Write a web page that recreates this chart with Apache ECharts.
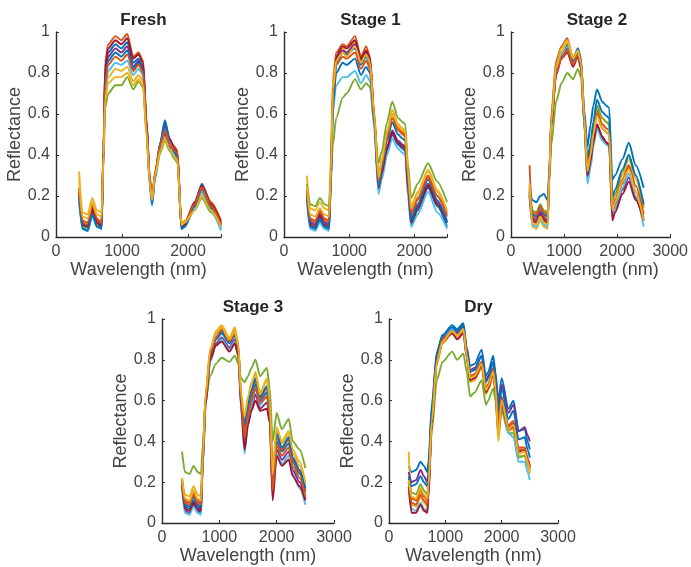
<!DOCTYPE html>
<html><head><meta charset="utf-8">
<script src="https://cdn.jsdelivr.net/npm/echarts@6/dist/echarts.min.js"></script>
<style>html,body{margin:0;padding:0;background:#fff}#c{width:691px;height:567px}</style>
</head><body><div id="c"></div>
<script>
// MATLAB default colour order
const lineColors = ['#0072BD','#D95319','#EDB120','#7E2F8E','#77AC30','#4DBEEE','#A2142F'];
const panelTitles = ['Fresh','Stage 1','Stage 2','Stage 3','Dry'];
const xMaxes = [2500, 2500, 3000, 3000, 3000];
const xTickLabels = [0, 1000, 2000, 3000];
const yTickLabels = [0, 0.2, 0.4, 0.6, 0.8, 1];

// ---- Fresh ----
const freshWl = [350,400,480,550,620,690,720,745,790,900,990,1080,1170,1250,1320,1370,1420,1455,1500,1580,1650,1720,1800,1840,1900,1950,2100,2210,2350,2500];
const freshCurves = [
 [0.20,0.05,0.04,0.12,0.06,0.04,0.40,0.80,0.90,0.94,0.92,0.95,0.85,0.87,0.83,0.56,0.28,0.16,0.30,0.46,0.57,0.48,0.42,0.40,0.04,0.05,0.16,0.26,0.16,0.07],
 [0.24,0.07,0.06,0.15,0.08,0.06,0.45,0.85,0.94,0.98,0.96,0.99,0.88,0.90,0.86,0.58,0.30,0.18,0.31,0.45,0.54,0.47,0.44,0.42,0.06,0.07,0.17,0.25,0.17,0.08],
 [0.32,0.12,0.11,0.19,0.13,0.12,0.42,0.70,0.78,0.82,0.81,0.83,0.76,0.79,0.76,0.52,0.28,0.19,0.32,0.44,0.50,0.44,0.40,0.38,0.07,0.08,0.14,0.21,0.14,0.06],
 [0.19,0.06,0.05,0.13,0.07,0.05,0.42,0.78,0.88,0.92,0.90,0.93,0.83,0.86,0.82,0.55,0.27,0.17,0.30,0.43,0.51,0.44,0.41,0.39,0.05,0.06,0.15,0.23,0.15,0.06],
 [0.17,0.05,0.04,0.11,0.06,0.05,0.38,0.63,0.70,0.74,0.74,0.78,0.72,0.76,0.73,0.50,0.26,0.17,0.29,0.41,0.47,0.42,0.38,0.36,0.05,0.06,0.13,0.19,0.12,0.04],
 [0.18,0.04,0.03,0.10,0.05,0.04,0.40,0.72,0.81,0.85,0.84,0.86,0.79,0.82,0.79,0.53,0.25,0.15,0.28,0.44,0.53,0.46,0.40,0.38,0.04,0.05,0.14,0.22,0.13,0.03],
 [0.22,0.06,0.05,0.14,0.07,0.05,0.44,0.83,0.92,0.96,0.94,0.97,0.87,0.89,0.85,0.57,0.29,0.18,0.31,0.45,0.55,0.48,0.43,0.41,0.05,0.06,0.17,0.25,0.16,0.07],
 [0.20,0.04,0.03,0.11,0.05,0.04,0.41,0.76,0.86,0.90,0.88,0.91,0.82,0.85,0.81,0.55,0.27,0.16,0.29,0.46,0.56,0.47,0.41,0.39,0.04,0.05,0.15,0.24,0.14,0.05],
 [0.23,0.08,0.07,0.16,0.09,0.07,0.42,0.75,0.84,0.88,0.86,0.89,0.81,0.84,0.80,0.54,0.28,0.18,0.31,0.45,0.52,0.46,0.42,0.41,0.06,0.07,0.16,0.24,0.15,0.06],
 [0.28,0.10,0.09,0.17,0.11,0.10,0.40,0.67,0.75,0.78,0.78,0.80,0.74,0.77,0.74,0.51,0.27,0.18,0.30,0.42,0.48,0.43,0.39,0.37,0.06,0.07,0.13,0.20,0.13,0.05]
];

// ---- Stage 1 ----
const stage1Wl = [350,400,480,550,620,690,720,750,800,900,960,1090,1180,1260,1320,1380,1450,1500,1580,1660,1750,1820,1860,1900,1950,2050,2210,2350,2500];
const stage1Curves = [
 [0.20,0.05,0.04,0.08,0.05,0.04,0.25,0.60,0.84,0.90,0.89,0.92,0.84,0.88,0.84,0.58,0.22,0.30,0.42,0.50,0.45,0.43,0.42,0.25,0.06,0.13,0.24,0.15,0.05],
 [0.24,0.08,0.07,0.12,0.08,0.07,0.35,0.75,0.90,0.94,0.93,0.98,0.88,0.93,0.88,0.62,0.28,0.36,0.50,0.60,0.53,0.51,0.50,0.30,0.10,0.18,0.30,0.20,0.10],
 [0.30,0.14,0.13,0.17,0.14,0.13,0.40,0.78,0.88,0.92,0.90,0.95,0.86,0.90,0.86,0.62,0.30,0.38,0.52,0.60,0.54,0.52,0.51,0.32,0.15,0.22,0.32,0.22,0.12],
 [0.22,0.07,0.06,0.11,0.07,0.06,0.30,0.68,0.87,0.91,0.90,0.94,0.86,0.90,0.86,0.60,0.24,0.32,0.44,0.52,0.47,0.45,0.44,0.26,0.08,0.15,0.26,0.17,0.08],
 [0.26,0.16,0.15,0.19,0.16,0.15,0.30,0.45,0.58,0.68,0.70,0.77,0.72,0.75,0.73,0.56,0.36,0.42,0.56,0.66,0.58,0.56,0.55,0.36,0.19,0.26,0.36,0.27,0.17],
 [0.18,0.04,0.03,0.07,0.04,0.03,0.28,0.62,0.74,0.78,0.78,0.81,0.75,0.79,0.76,0.54,0.21,0.28,0.40,0.48,0.43,0.41,0.40,0.20,0.05,0.11,0.22,0.12,0.04],
 [0.21,0.06,0.05,0.10,0.06,0.05,0.30,0.70,0.88,0.93,0.92,0.96,0.87,0.91,0.87,0.60,0.24,0.31,0.43,0.51,0.46,0.44,0.43,0.24,0.07,0.14,0.25,0.16,0.07],
 [0.22,0.05,0.04,0.09,0.05,0.04,0.28,0.64,0.80,0.85,0.84,0.87,0.79,0.83,0.80,0.57,0.25,0.33,0.47,0.56,0.50,0.48,0.47,0.28,0.08,0.16,0.28,0.18,0.07],
 [0.23,0.09,0.08,0.13,0.09,0.08,0.32,0.70,0.84,0.88,0.87,0.90,0.82,0.86,0.82,0.59,0.27,0.35,0.49,0.58,0.52,0.50,0.49,0.29,0.12,0.19,0.29,0.20,0.11],
 [0.25,0.11,0.10,0.14,0.11,0.10,0.33,0.72,0.86,0.90,0.88,0.93,0.85,0.89,0.85,0.61,0.29,0.37,0.51,0.62,0.55,0.53,0.52,0.33,0.14,0.21,0.33,0.23,0.13]
];

// ---- Stage 2 ----
const stage2Wl = [350,400,480,550,620,690,720,760,850,950,1060,1170,1260,1320,1380,1440,1500,1550,1620,1720,1800,1850,1910,1960,2100,2220,2350,2500];
const stage2Curves = [
 [0.25,0.18,0.17,0.20,0.21,0.18,0.32,0.55,0.80,0.88,0.92,0.86,0.90,0.85,0.62,0.44,0.55,0.64,0.72,0.66,0.64,0.63,0.28,0.30,0.38,0.46,0.35,0.24],
 [0.35,0.10,0.09,0.13,0.10,0.08,0.30,0.60,0.86,0.93,0.97,0.87,0.92,0.86,0.60,0.34,0.42,0.52,0.62,0.55,0.53,0.52,0.12,0.16,0.26,0.34,0.22,0.09],
 [0.22,0.05,0.04,0.08,0.05,0.04,0.28,0.58,0.84,0.92,0.96,0.88,0.91,0.85,0.59,0.36,0.44,0.54,0.64,0.58,0.56,0.55,0.16,0.20,0.30,0.38,0.28,0.14],
 [0.20,0.09,0.08,0.12,0.09,0.08,0.28,0.55,0.80,0.88,0.92,0.84,0.89,0.83,0.56,0.29,0.36,0.46,0.54,0.48,0.46,0.45,0.10,0.14,0.23,0.29,0.19,0.08],
 [0.22,0.13,0.12,0.16,0.13,0.12,0.26,0.45,0.66,0.75,0.80,0.77,0.82,0.78,0.56,0.36,0.44,0.53,0.64,0.58,0.56,0.55,0.18,0.21,0.32,0.40,0.30,0.15],
 [0.20,0.06,0.05,0.09,0.06,0.05,0.27,0.56,0.82,0.89,0.93,0.86,0.90,0.84,0.55,0.26,0.34,0.44,0.53,0.47,0.45,0.44,0.10,0.14,0.24,0.31,0.20,0.05],
 [0.21,0.08,0.07,0.11,0.08,0.07,0.28,0.54,0.79,0.87,0.90,0.83,0.88,0.82,0.56,0.30,0.37,0.46,0.55,0.49,0.46,0.45,0.08,0.12,0.21,0.27,0.18,0.08],
 [0.23,0.11,0.10,0.15,0.11,0.10,0.30,0.58,0.83,0.90,0.94,0.86,0.92,0.87,0.60,0.38,0.46,0.56,0.67,0.61,0.59,0.58,0.20,0.23,0.33,0.40,0.30,0.16],
 [0.24,0.12,0.11,0.15,0.12,0.11,0.29,0.55,0.80,0.87,0.91,0.84,0.89,0.84,0.58,0.34,0.41,0.50,0.60,0.53,0.51,0.50,0.14,0.18,0.28,0.35,0.25,0.11],
 [0.26,0.07,0.06,0.10,0.07,0.06,0.29,0.57,0.83,0.90,0.95,0.87,0.91,0.85,0.58,0.32,0.40,0.50,0.59,0.53,0.51,0.50,0.13,0.17,0.27,0.33,0.22,0.08]
];

// ---- Stage 3 ----
const stage3Wl = [350,400,480,550,620,680,710,760,840,940,1040,1175,1270,1330,1380,1440,1500,1560,1630,1710,1830,1880,1930,2000,2090,2210,2280,2400,2500];
const stage3Curves = [
 [0.20,0.08,0.07,0.11,0.08,0.07,0.30,0.60,0.82,0.90,0.93,0.88,0.92,0.85,0.60,0.44,0.55,0.62,0.68,0.60,0.64,0.55,0.18,0.40,0.35,0.39,0.30,0.24,0.15],
 [0.21,0.11,0.10,0.15,0.11,0.10,0.32,0.62,0.84,0.93,0.96,0.90,0.95,0.87,0.62,0.46,0.57,0.64,0.70,0.61,0.66,0.57,0.20,0.42,0.36,0.41,0.31,0.25,0.16],
 [0.22,0.14,0.13,0.18,0.14,0.13,0.33,0.63,0.85,0.94,0.97,0.91,0.96,0.88,0.64,0.50,0.61,0.68,0.74,0.64,0.70,0.61,0.25,0.46,0.39,0.44,0.34,0.28,0.18],
 [0.18,0.06,0.05,0.09,0.06,0.05,0.28,0.58,0.80,0.88,0.91,0.86,0.90,0.83,0.58,0.38,0.50,0.57,0.63,0.56,0.59,0.51,0.14,0.36,0.31,0.35,0.26,0.20,0.12],
 [0.35,0.25,0.24,0.28,0.25,0.24,0.38,0.60,0.72,0.78,0.81,0.79,0.82,0.78,0.71,0.69,0.72,0.76,0.80,0.72,0.76,0.66,0.40,0.54,0.46,0.51,0.40,0.36,0.27],
 [0.17,0.05,0.04,0.08,0.05,0.04,0.27,0.57,0.79,0.87,0.90,0.85,0.89,0.82,0.56,0.34,0.48,0.58,0.66,0.58,0.62,0.53,0.13,0.34,0.29,0.33,0.24,0.17,0.09],
 [0.19,0.07,0.06,0.10,0.07,0.06,0.29,0.58,0.80,0.87,0.89,0.84,0.88,0.82,0.57,0.36,0.48,0.55,0.60,0.55,0.56,0.49,0.11,0.33,0.28,0.31,0.23,0.18,0.11],
 [0.21,0.09,0.08,0.13,0.09,0.08,0.31,0.61,0.83,0.91,0.94,0.89,0.93,0.86,0.61,0.48,0.58,0.65,0.71,0.62,0.67,0.58,0.22,0.44,0.37,0.42,0.32,0.26,0.17],
 [0.20,0.10,0.09,0.14,0.10,0.09,0.30,0.60,0.83,0.91,0.95,0.89,0.93,0.86,0.60,0.42,0.53,0.60,0.66,0.59,0.62,0.54,0.16,0.38,0.33,0.37,0.28,0.22,0.13],
 [0.22,0.12,0.11,0.16,0.12,0.11,0.32,0.63,0.85,0.93,0.96,0.90,0.94,0.87,0.63,0.52,0.62,0.69,0.73,0.63,0.71,0.60,0.24,0.47,0.40,0.45,0.36,0.30,0.20]
];

// ---- Dry ----
const dryWl = [350,400,480,560,620,680,700,760,850,950,1120,1210,1320,1380,1440,1520,1645,1720,1760,1850,1890,1940,2000,2120,2210,2300,2410,2460,2500];
const dryCurves = [
 [0.28,0.25,0.26,0.30,0.28,0.25,0.30,0.58,0.84,0.92,0.97,0.95,0.98,0.86,0.77,0.78,0.85,0.72,0.74,0.82,0.74,0.60,0.71,0.56,0.60,0.45,0.46,0.40,0.36],
 [0.20,0.12,0.11,0.16,0.13,0.11,0.18,0.50,0.80,0.90,0.95,0.93,0.96,0.83,0.72,0.73,0.79,0.66,0.68,0.76,0.68,0.50,0.62,0.48,0.50,0.37,0.37,0.32,0.27],
 [0.35,0.09,0.08,0.13,0.10,0.08,0.15,0.48,0.78,0.88,0.93,0.91,0.94,0.81,0.69,0.70,0.76,0.63,0.65,0.72,0.64,0.40,0.56,0.45,0.46,0.33,0.33,0.28,0.24],
 [0.25,0.20,0.21,0.26,0.23,0.20,0.25,0.54,0.82,0.91,0.95,0.93,0.97,0.85,0.75,0.76,0.82,0.70,0.72,0.79,0.72,0.56,0.68,0.54,0.58,0.45,0.47,0.43,0.40],
 [0.22,0.15,0.14,0.19,0.16,0.14,0.20,0.45,0.70,0.79,0.84,0.80,0.83,0.74,0.62,0.64,0.70,0.58,0.60,0.66,0.60,0.44,0.55,0.44,0.44,0.32,0.33,0.29,0.26],
 [0.17,0.07,0.06,0.10,0.07,0.06,0.14,0.50,0.80,0.90,0.95,0.92,0.95,0.82,0.70,0.72,0.78,0.65,0.67,0.74,0.66,0.46,0.59,0.44,0.42,0.30,0.30,0.25,0.21],
 [0.18,0.05,0.05,0.09,0.06,0.05,0.12,0.48,0.79,0.89,0.93,0.90,0.93,0.81,0.70,0.71,0.77,0.64,0.66,0.73,0.65,0.44,0.58,0.46,0.47,0.35,0.36,0.31,0.28],
 [0.23,0.18,0.19,0.23,0.20,0.18,0.24,0.56,0.83,0.92,0.96,0.94,0.97,0.84,0.74,0.75,0.82,0.69,0.71,0.79,0.71,0.54,0.66,0.51,0.55,0.41,0.42,0.36,0.32],
 [0.20,0.10,0.09,0.14,0.11,0.09,0.16,0.50,0.80,0.90,0.94,0.92,0.95,0.82,0.71,0.73,0.79,0.66,0.68,0.75,0.67,0.48,0.61,0.47,0.49,0.36,0.36,0.31,0.27],
 [0.21,0.13,0.12,0.17,0.14,0.12,0.19,0.50,0.79,0.89,0.94,0.92,0.95,0.82,0.71,0.72,0.78,0.65,0.67,0.74,0.66,0.42,0.60,0.46,0.48,0.34,0.35,0.30,0.25]
];

const panelWl = [freshWl, stage1Wl, stage2Wl, stage3Wl, dryWl];
const panelCurves = [freshCurves, stage1Curves, stage2Curves, stage3Curves, dryCurves];

// layout (pixels)
const gridBoxes = [
  {left: 56, top: 32, width: 165, height: 205},
  {left: 284, top: 32, width: 163, height: 205},
  {left: 511, top: 32, width: 162, height: 205},
  {left: 162, top: 319, width: 172, height: 204},
  {left: 389, top: 319, width: 169, height: 204}
];

const FONT = '"Liberation Sans", Arial, Helvetica, sans-serif';
const AXIS_COLOR = '#2b2b2b';
const TEXT_COLOR = '#444444';

panelCurves.forEach((cs, p) => cs.forEach((c, k) => {
  if (c.length !== panelWl[p].length) throw new Error('length mismatch panel ' + p + ' curve ' + k + ': ' + c.length + ' vs ' + panelWl[p].length);
}));

const option = {
  animation: false,
  backgroundColor: '#ffffff',
  textStyle: {fontFamily: FONT},
  title: gridBoxes.map((g, i) => ({
    text: panelTitles[i],
    left: g.left + g.width / 2,
    top: g.top - 25,
    textAlign: 'center',
    textStyle: {fontFamily: FONT, fontSize: 17, fontWeight: 'bold', color: '#262626'}
  })),
  grid: gridBoxes.map(g => ({left: g.left, top: g.top, width: g.width, height: g.height, containLabel: false})),
  xAxis: gridBoxes.map((g, i) => ({
    type: 'value', gridIndex: i, min: 0, max: xMaxes[i], interval: 1000,
    name: 'Wavelength (nm)', nameLocation: 'middle', nameGap: 24,
    nameTextStyle: {fontFamily: FONT, fontSize: 18, color: TEXT_COLOR},
    axisLine: {show: true, onZero: false, lineStyle: {color: AXIS_COLOR, width: 1.4}},
    axisTick: {show: true, inside: true, length: 3, lineStyle: {color: AXIS_COLOR}},
    splitLine: {show: false},
    axisLabel: {fontFamily: FONT, fontSize: 16, color: TEXT_COLOR, margin: 7,
      formatter: v => (xTickLabels.indexOf(v) >= 0 ? String(v) : '')}
  })),
  yAxis: gridBoxes.map((g, i) => ({
    type: 'value', gridIndex: i, min: 0, max: 1, interval: 0.2,
    name: 'Reflectance', nameLocation: 'middle', nameGap: 31, nameRotate: 90,
    nameTextStyle: {fontFamily: FONT, fontSize: 18, color: TEXT_COLOR},
    axisLine: {show: true, onZero: false, lineStyle: {color: AXIS_COLOR, width: 1.4}},
    axisTick: {show: true, inside: true, length: 3, lineStyle: {color: AXIS_COLOR}},
    splitLine: {show: false},
    axisLabel: {fontFamily: FONT, fontSize: 16, color: TEXT_COLOR, margin: 6,
      formatter: v => { const r = Math.round(v * 10) / 10; return yTickLabels.indexOf(r) >= 0 ? String(r) : ''; }}
  })),
  series: []
};

panelCurves.forEach((curves, p) => {
  curves.forEach((vals, k) => {
    option.series.push({
      type: 'line',
      xAxisIndex: p, yAxisIndex: p,
      data: panelWl[p].map((w, j) => [w, vals[j]]),
      showSymbol: false, symbol: 'none',
      smooth: 0.25, smoothMonotone: 'x',
      lineStyle: {width: 1.9, color: lineColors[k % lineColors.length]},
      itemStyle: {color: lineColors[k % lineColors.length]},
      silent: true
    });
  });
});

const chart = echarts.init(document.getElementById('c'), null, {renderer: 'canvas'});
chart.setOption(option);
</script>
</body></html>
